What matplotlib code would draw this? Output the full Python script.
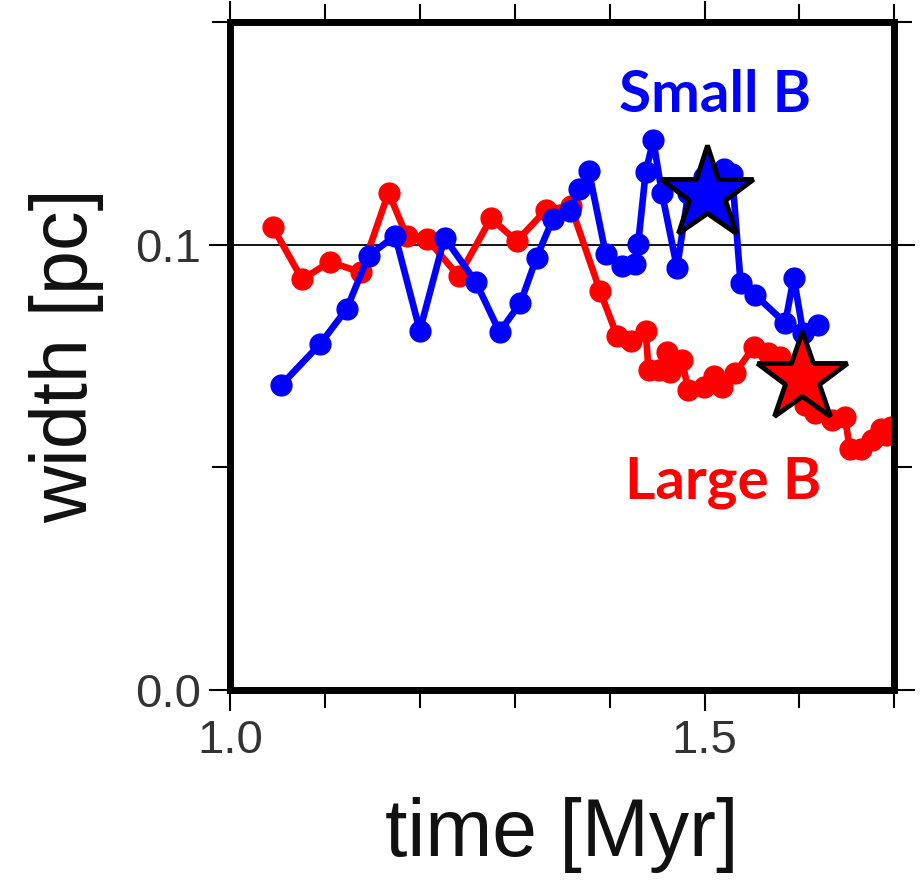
import matplotlib
matplotlib.use('Agg')
import matplotlib.pyplot as plt
from matplotlib.ticker import FixedLocator

# small B (blue)
t_small = [1.054, 1.095, 1.123, 1.146, 1.174, 1.200, 1.226, 1.259, 1.284, 1.306,
           1.323, 1.340, 1.358, 1.368, 1.378, 1.396, 1.413, 1.427, 1.430, 1.438,
           1.446, 1.455, 1.471, 1.483, 1.499, 1.520, 1.529, 1.538, 1.553, 1.585,
           1.594, 1.604, 1.620]
w_small = [0.0685, 0.0777, 0.0856, 0.0975, 0.1020, 0.0807, 0.1016, 0.0916, 0.0804, 0.0869,
           0.0971, 0.1057, 0.1076, 0.1125, 0.1166, 0.0978, 0.0952, 0.0956, 0.1001, 0.1163,
           0.1234, 0.1117, 0.0948, 0.1117, 0.1151, 0.1170, 0.1159, 0.0914, 0.0888, 0.0824,
           0.0926, 0.0801, 0.0820]

# large B (red)
t_large = [1.045, 1.076, 1.105, 1.138, 1.167, 1.186, 1.208, 1.241, 1.275, 1.302,
           1.333, 1.359, 1.390, 1.408, 1.422, 1.438, 1.441, 1.452, 1.460, 1.464,
           1.476, 1.483, 1.499, 1.510, 1.518, 1.532, 1.552, 1.567, 1.580, 1.594,
           1.606, 1.616, 1.634, 1.648, 1.653, 1.665, 1.676, 1.686, 1.691, 1.696]
w_large = [0.1040, 0.0922, 0.0961, 0.0938, 0.1117, 0.1020, 0.1012, 0.0929, 0.1059, 0.1008,
           0.1078, 0.1087, 0.0895, 0.0794, 0.0783, 0.0805, 0.0719, 0.0719, 0.0760, 0.0715,
           0.0741, 0.0673, 0.0681, 0.0704, 0.0681, 0.0711, 0.0771, 0.0756, 0.0748, 0.0700,
           0.0640, 0.0621, 0.0606, 0.0613, 0.0542, 0.0542, 0.0561, 0.0587, 0.0573, 0.0591]

# star markers
star_small = (1.503, 0.1113)
star_large = (1.603, 0.0700)

fig = plt.figure(figsize=(9.22, 8.86), dpi=100)
ax = fig.add_axes([0.2495, 0.2212, 0.7205, 0.754])

ax.axhline(0.1, color='black', lw=1.3, zorder=1)

ax.plot(t_large, w_large, '-o', color='#ff0000', lw=4.8, ms=15, zorder=2)
ax.plot(t_small, w_small, '-o', color='#0000ff', lw=4.8, ms=15, zorder=3)

ax.plot(*star_small, marker='*', ms=70, color='#0000ff', mec='black', mew=3.5, zorder=5)
ax.plot(*star_large, marker='*', ms=68, color='#ff0000', mec='black', mew=3.5, zorder=5)

ax.text(1.511, 0.1335, 'Small B', color='#0000ff', fontsize=42, fontweight='bold',
        family='Lato', ha='center', va='center')
ax.text(1.52, 0.0465, 'Large B', color='#ff0000', fontsize=42, fontweight='bold',
        family='Lato', ha='center', va='center')

ax.set_xlim(1.0, 1.7)
ax.set_ylim(0.0, 0.15)
ax.xaxis.set_major_locator(FixedLocator([1.0, 1.5]))
ax.xaxis.set_minor_locator(FixedLocator([1.1, 1.2, 1.3, 1.4, 1.6, 1.7]))
ax.yaxis.set_major_locator(FixedLocator([0.0, 0.1]))
ax.yaxis.set_minor_locator(FixedLocator([0.05, 0.15]))
ax.set_xticklabels(['1.0', '1.5'])
ax.set_yticklabels(['0.0', '0.1'])

ax.tick_params(which='both', direction='out', top=True, right=True, width=1.5,
               labelsize=34, labelcolor='#333333', pad=6)
ax.tick_params(which='major', length=15)
ax.tick_params(which='minor', length=13)
for lab in ax.get_xticklabels() + ax.get_yticklabels():
    lab.set_family('Liberation Sans')

for sp in ax.spines.values():
    sp.set_linewidth(5)

ax.set_xlabel('time [Myr]', fontsize=58, family='Liberation Sans', color='#111111', labelpad=24)
ax.set_ylabel('width [pc]', fontsize=57, family='Liberation Sans', color='#111111', labelpad=22)

fig.savefig('out.png', dpi=100)
